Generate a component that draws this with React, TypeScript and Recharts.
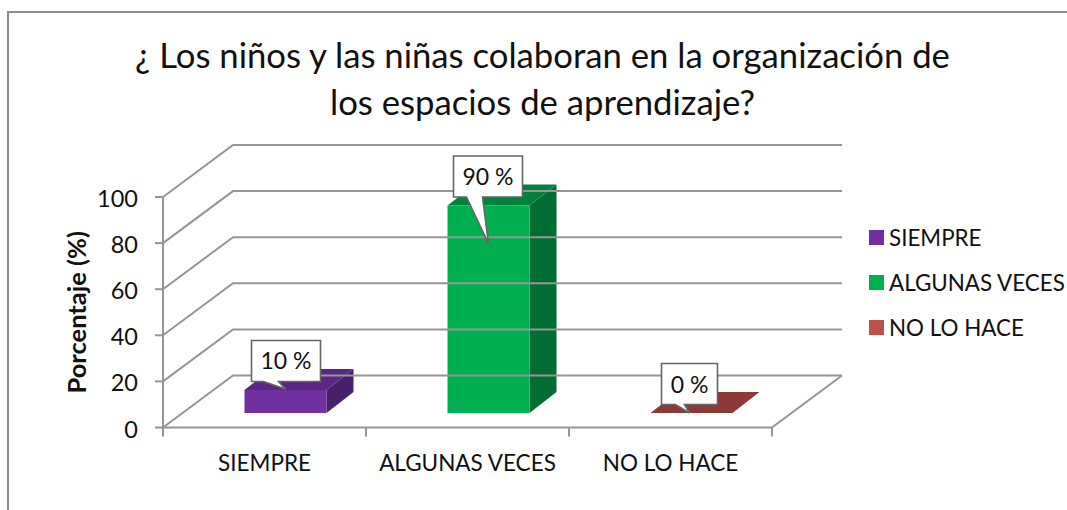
import React from 'react';
import { BarChart, Bar, XAxis, YAxis, Legend, LabelList } from 'recharts';

const categories = ['SIEMPRE', 'ALGUNAS VECES', 'NO LO HACE'];
const siempre = [10, null, null];
const algunas = [null, 90, null];
const noLoHace = [null, null, 0];
const yTicks = [0, 20, 40, 60, 80, 100];
const titleLines = ['¿ Los niños y las niñas colaboran en la organización de', 'los espacios de aprendizaje?'];
const yTitle = 'Porcentaje (%)';

const data = categories.map((c, i) => ({ c, s: siempre[i], a: algunas[i], n: noLoHace[i] }));

const FONT = 'Lato, Carlito, sans-serif';
const TXT = '#111111';
const GRID = '#969696';
const W = 1067, H = 510;
const LEFT = 163, RIGHT = 772, TOP = 197, BOTTOM = 427.5;
const BACK_X = 70, BACK_Y = -52;
const BAR_DX = 20.5, BAR_DY = -14.5, DEPTH_X = 27, DEPTH_Y = -21;
const BAND = (RIGHT - LEFT) / 3;

const makeShape = (key: string, front: string, top: string, side: string) => (p: any) => {
  if (p.payload[key] == null) return null;
  const x = p.x + BAR_DX, w = p.width, yTop = p.y + BAR_DY, yBot = p.y + p.height + BAR_DY;
  const topPts = `${x},${yTop} ${x + w},${yTop} ${x + w + DEPTH_X},${yTop + DEPTH_Y} ${x + DEPTH_X},${yTop + DEPTH_Y}`;
  const sidePts = `${x + w},${yTop} ${x + w + DEPTH_X},${yTop + DEPTH_Y} ${x + w + DEPTH_X},${yBot + DEPTH_Y} ${x + w},${yBot}`;
  return (
    <g>
      {p.height > 0 && <polygon points={sidePts} fill={side} />}
      {p.height > 0 && <rect x={x} y={yTop} width={w} height={yBot - yTop} fill={front} />}
      <polygon points={topPts} fill={top} />
    </g>
  );
};

// bx: box left from bar left, bw: box width, t0/t1: tail base from box left, tipX from bar left, tipY from bar top
const makeCallout = (key: string, bx: number, bw: number, t0: number, t1: number, tipX: number, tipY: number) => (p: any) => {
  if (p.value == null) return null;
  const bar = p.x + BAR_DX, top = p.y + BAR_DY;
  const l = bar + bx, r = l + bw, t = top - 49.5, b = top - 8.5;
  const d = `M${l},${t} L${r},${t} L${r},${b} L${l + t1},${b} L${bar + tipX},${top + tipY} L${l + t0},${b} L${l},${b} Z`;
  return (
    <g key={key}>
      <path d={d} fill="#ffffff" stroke="#666666" strokeWidth={1.6} />
      <text x={(l + r) / 2} y={t + 29} textAnchor="middle" fontFamily={FONT} fontSize={23} fill={TXT}>{`${p.value} %`}</text>
    </g>
  );
};

const YTick = (p: any) => {
  const { y, payload } = p;
  const axisX = LEFT;
  return (
    <g>
      <polyline
        points={`${axisX},${y} ${axisX + BACK_X},${y + BACK_Y} ${RIGHT + BACK_X},${y + BACK_Y}`}
        fill="none" stroke={GRID} strokeWidth={2} />
      {payload.value === 0 && (
        <polyline points={`${RIGHT + BACK_X},${y + BACK_Y} ${RIGHT},${y}`} fill="none" stroke={GRID} strokeWidth={2} />
      )}
      <line x1={axisX - 8} x2={axisX} y1={y} y2={y} stroke={GRID} strokeWidth={2} />
      <text x={138} y={y + 10} textAnchor="end" fontFamily={FONT} fontSize={23.5} fill={TXT}>{payload.value}</text>
    </g>
  );
};

const XTick = (p: any) => {
  const { x, payload, index } = p;
  const l = x - BAND / 2, r = x + BAND / 2;
  return (
    <g>
      <line x1={l} x2={l} y1={BOTTOM} y2={BOTTOM + 9} stroke={GRID} strokeWidth={2} />
      {index === categories.length - 1 && <line x1={r} x2={r} y1={BOTTOM} y2={BOTTOM + 9} stroke={GRID} strokeWidth={2} />}
      <text x={x} y={471} textAnchor="middle" fontFamily={FONT} fontSize={22.5} fill={TXT}>{payload.value}</text>
    </g>
  );
};

const LegendBox = (p: any) => (
  <div style={{ fontFamily: FONT, fontSize: 22.4, color: TXT }}>
    {p.payload.map((e: any) => (
      <div key={e.value} style={{ height: 45, display: 'flex', alignItems: 'center', whiteSpace: 'nowrap' }}>
        <span style={{ width: 15, height: 15, background: e.color, marginRight: 5, display: 'inline-block' }} />
        {e.value}
      </div>
    ))}
  </div>
);

export default function App() {
  return (
    <div style={{ position: 'absolute', left: 0, top: 0, width: W, height: H, overflow: 'hidden', background: '#fff' }}>
      <div style={{ position: 'absolute', left: 7, top: 11, width: W, height: H, borderLeft: '2px solid #8c8c8c', borderTop: '2px solid #8c8c8c' }} />
      <div style={{ position: 'absolute', left: 0, top: 31, width: 1085, textAlign: 'center', fontFamily: FONT, fontSize: 34.7, lineHeight: '47px', color: TXT }}>
        {titleLines.map((t) => <div key={t}>{t}</div>)}
      </div>
      <BarChart
        width={W} height={H} data={data} barSize={82}
        margin={{ left: LEFT - 60, right: W - RIGHT, top: TOP, bottom: H - BOTTOM - 40 }}
        style={{ position: 'absolute', left: 0, top: 0 }}
      >
        <XAxis dataKey="c" height={40} axisLine={{ stroke: GRID, strokeWidth: 2 }} tickLine={false} tick={XTick} interval={0} />
        <YAxis
          width={60} domain={[0, 100]} ticks={yTicks} axisLine={{ stroke: GRID, strokeWidth: 2 }} tickLine={false} tick={YTick}
          label={{ value: yTitle, angle: -90, position: 'center', dx: -56, fontFamily: FONT, fontSize: 25.5, fontWeight: 700, fill: TXT }}
        />
        <Legend
          layout="vertical" align="center" verticalAlign="middle" content={LegendBox} itemSorter={null}
          wrapperStyle={{ position: 'absolute', left: 869, top: 215, width: 198, height: 140 }}
        />
        <Bar dataKey="s" name="SIEMPRE" stackId="a" fill="#7030A0" isAnimationActive={false} shape={makeShape('s', '#7030A0', '#5A2782', '#46206A')}>
          <LabelList dataKey="s" content={makeCallout('s', 7, 69, 12, 27, 41, -1)} />
        </Bar>
        <Bar dataKey="a" name="ALGUNAS VECES" stackId="a" fill="#00B050" isAnimationActive={false} shape={makeShape('a', '#00B050', '#00823C', '#006E33')}>
          <LabelList dataKey="a" content={makeCallout('a', 6, 69, 13, 29, 41, 38)} />
        </Bar>
        <Bar dataKey="n" name="NO LO HACE" stackId="a" fill="#C0504D" isAnimationActive={false} shape={makeShape('n', '#C0504D', '#8B3A38', '#7A3230')}>
          <LabelList dataKey="n" content={makeCallout('n', 11, 56, 14, 23, 39, 0)} />
        </Bar>
      </BarChart>
    </div>
  );
}
